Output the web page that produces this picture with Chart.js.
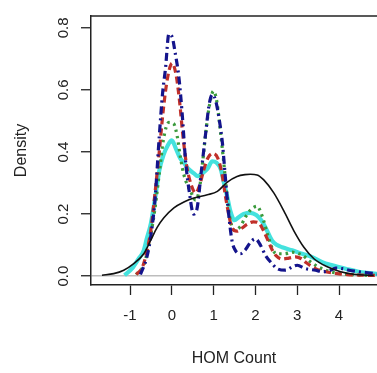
<!DOCTYPE html>
<html>
<head>
<meta charset="utf-8">
<script src="https://cdn.jsdelivr.net/npm/chart.js@4/dist/chart.umd.min.js"></script>
<style>
html,body{margin:0;padding:0;background:#fff;overflow:hidden;}
#wrap{width:377px;height:373px;}
</style>
</head>
<body>
<div id="wrap"><canvas id="c" width="377" height="373"></canvas></div>
<script>
const xTicks = [-1, 0, 1, 2, 3, 4];
const yTicks = [0, 0.2, 0.4, 0.6, 0.8];

const blackX = [-1.67,-1.39,-1.15,-0.91,-0.67,-0.51,-0.35,-0.19,0.05,0.29,0.53,0.85,1.09,1.33,1.56,1.75,1.88,2.04,2.2,2.44,2.68,2.92,3.16,3.4,3.72,4.04,4.35,4.83];
const blackY = [0.003,0.008,0.019,0.04,0.072,0.114,0.157,0.188,0.22,0.239,0.252,0.262,0.273,0.303,0.321,0.327,0.328,0.326,0.31,0.268,0.21,0.146,0.093,0.056,0.03,0.014,0.006,0.002];

const blueX = [-0.75,-0.6,-0.5,-0.4,-0.3,-0.22,-0.15,-0.07,0.01,0.08,0.17,0.25,0.33,0.42,0.52,0.6,0.7,0.81,0.89,0.97,1.05,1.14,1.21,1.28,1.36,1.44,1.52,1.64,1.76,1.88,2.0,2.12,2.24,2.4,2.52,2.72,2.88,3.0,3.2,3.44,3.6,3.78,3.92,4.08,4.24,4.48,4.8,4.95];
const blueY = [0.005,0.06,0.13,0.25,0.45,0.59,0.67,0.78,0.77,0.72,0.64,0.52,0.37,0.27,0.2,0.215,0.33,0.46,0.55,0.585,0.565,0.5,0.43,0.32,0.2,0.114,0.083,0.072,0.085,0.109,0.12,0.1,0.067,0.04,0.024,0.019,0.03,0.035,0.024,0.019,0.014,0.018,0.026,0.024,0.019,0.014,0.009,0.006];

const redX = [-0.85,-0.7,-0.58,-0.5,-0.4,-0.3,-0.2,-0.1,0.01,0.1,0.18,0.26,0.35,0.45,0.57,0.66,0.76,0.86,0.98,1.1,1.2,1.28,1.36,1.44,1.56,1.68,1.8,1.95,2.08,2.18,2.3,2.4,2.5,2.64,2.8,2.96,3.1,3.2,3.44,3.68,3.92,4.2,4.6,4.95];
const redY = [0.005,0.03,0.09,0.15,0.27,0.4,0.54,0.64,0.686,0.65,0.57,0.46,0.36,0.3,0.268,0.29,0.34,0.38,0.395,0.38,0.33,0.26,0.2,0.155,0.145,0.155,0.167,0.175,0.172,0.15,0.115,0.085,0.065,0.055,0.058,0.062,0.056,0.045,0.024,0.014,0.009,0.005,0.003,0.002];

const greenX = [-0.85,-0.66,-0.5,-0.4,-0.3,-0.2,-0.07,0.05,0.13,0.21,0.29,0.45,0.57,0.66,0.74,0.82,0.9,1.0,1.08,1.16,1.24,1.32,1.4,1.5,1.64,1.76,1.9,2.04,2.16,2.3,2.4,2.5,2.7,2.88,3.0,3.12,3.3,3.5,3.75,4.0,4.4,4.95];
const greenY = [0.005,0.04,0.136,0.22,0.33,0.44,0.495,0.49,0.45,0.38,0.326,0.273,0.245,0.28,0.37,0.47,0.55,0.596,0.56,0.47,0.37,0.26,0.18,0.148,0.16,0.19,0.215,0.225,0.194,0.13,0.09,0.072,0.072,0.077,0.074,0.068,0.048,0.03,0.016,0.009,0.004,0.002];

const cyanX = [-1.13,-0.95,-0.8,-0.67,-0.6,-0.5,-0.4,-0.3,-0.2,-0.1,0.0,0.1,0.2,0.29,0.4,0.53,0.62,0.72,0.85,0.97,1.07,1.17,1.24,1.32,1.4,1.5,1.6,1.72,1.88,2.02,2.14,2.24,2.4,2.52,2.64,2.88,3.12,3.36,3.6,3.84,4.16,4.47,4.79,4.95];
const cyanY = [0.003,0.025,0.055,0.083,0.12,0.17,0.25,0.34,0.39,0.42,0.437,0.41,0.38,0.365,0.345,0.331,0.322,0.33,0.345,0.37,0.365,0.345,0.305,0.26,0.21,0.18,0.19,0.2,0.204,0.197,0.18,0.157,0.114,0.1,0.093,0.083,0.072,0.061,0.045,0.035,0.024,0.014,0.009,0.006];

const pts = (xs, ys) => xs.map((x, i) => ({x: x, y: ys[i]}));

const FONT = "'Liberation Sans', Arial, Helvetica, sans-serif";

const boxPlugin = {
  id: 'boxTop',
  afterDraw(chart) {
    const {ctx, chartArea: a} = chart;
    ctx.save();
    ctx.strokeStyle = '#222';
    ctx.lineWidth = 1.5;
    ctx.beginPath();
    ctx.moveTo(a.left, a.top);
    ctx.lineTo(a.right, a.top);
    ctx.stroke();
    ctx.restore();
  }
};

const lineDs = (label, xs, ys, color, width, dash) => ({
  label: label,
  data: pts(xs, ys),
  borderColor: color,
  backgroundColor: color,
  borderWidth: width,
  borderDash: dash,
  pointRadius: 0,
  fill: false,
  showLine: true,
  cubicInterpolationMode: 'monotone'
});

new Chart(document.getElementById('c'), {
  type: 'scatter',
  data: {
    datasets: [
      lineDs('black', blackX, blackY, '#111111', 1.6, []),
      lineDs('blue', blueX, blueY, '#14148c', 3.2, [8, 4, 2, 4]),
      lineDs('red', redX, redY, '#c0302a', 3.2, [7, 4]),
      lineDs('green', greenX, greenY, '#3a9a3c', 3.2, [2.5, 4]),
      lineDs('cyan', cyanX, cyanY, '#44e2de', 4.2, [])
    ]
  },
  options: {
    responsive: false,
    animation: false,
    events: [],
    layout: {padding: {top: 12, right: 0, left: 0, bottom: 0}},
    plugins: {legend: {display: false}, tooltip: {enabled: false}},
    scales: {
      x: {
        type: 'linear',
        min: -1.933,
        max: 4.909,
        afterFit: s => { s.height = 88; },
        afterBuildTicks: s => { s.ticks = xTicks.map(v => ({value: v})); },
        grid: {drawOnChartArea: false, tickLength: 10, tickColor: '#222', tickWidth: 1.3},
        border: {display: true, color: '#222', width: 1.5},
        ticks: {
          font: {family: FONT, size: 15},
          color: '#222',
          padding: 12,
          maxRotation: 0,
          callback: v => String(v)
        },
        title: {
          display: true,
          text: 'HOM Count',
          font: {family: FONT, size: 16},
          color: '#222',
          padding: {top: 0, bottom: 5}
        }
      },
      y: {
        type: 'linear',
        min: -0.0286,
        max: 0.838,
        afterFit: s => { s.width = 91; },
        afterBuildTicks: s => { s.ticks = yTicks.map(v => ({value: v})); },
        grid: {
          drawOnChartArea: true,
          color: c => (c.tick && c.tick.value === 0) ? '#bdbdbd' : 'rgba(0,0,0,0)',
          lineWidth: 1.5,
          tickLength: 10,
          tickColor: '#222',
          tickWidth: 1.3
        },
        border: {display: true, color: '#222', width: 1.5},
        ticks: {
          font: {family: FONT, size: 15},
          color: '#222',
          padding: 7,
          minRotation: 90,
          maxRotation: 90,
          crossAlign: 'center',
          callback: v => Number(v).toFixed(1)
        },
        title: {
          display: true,
          text: 'Density',
          font: {family: FONT, size: 16},
          color: '#222',
          padding: {top: 12, bottom: 0}
        }
      }
    }
  },
  plugins: [boxPlugin]
});
</script>
</body>
</html>
